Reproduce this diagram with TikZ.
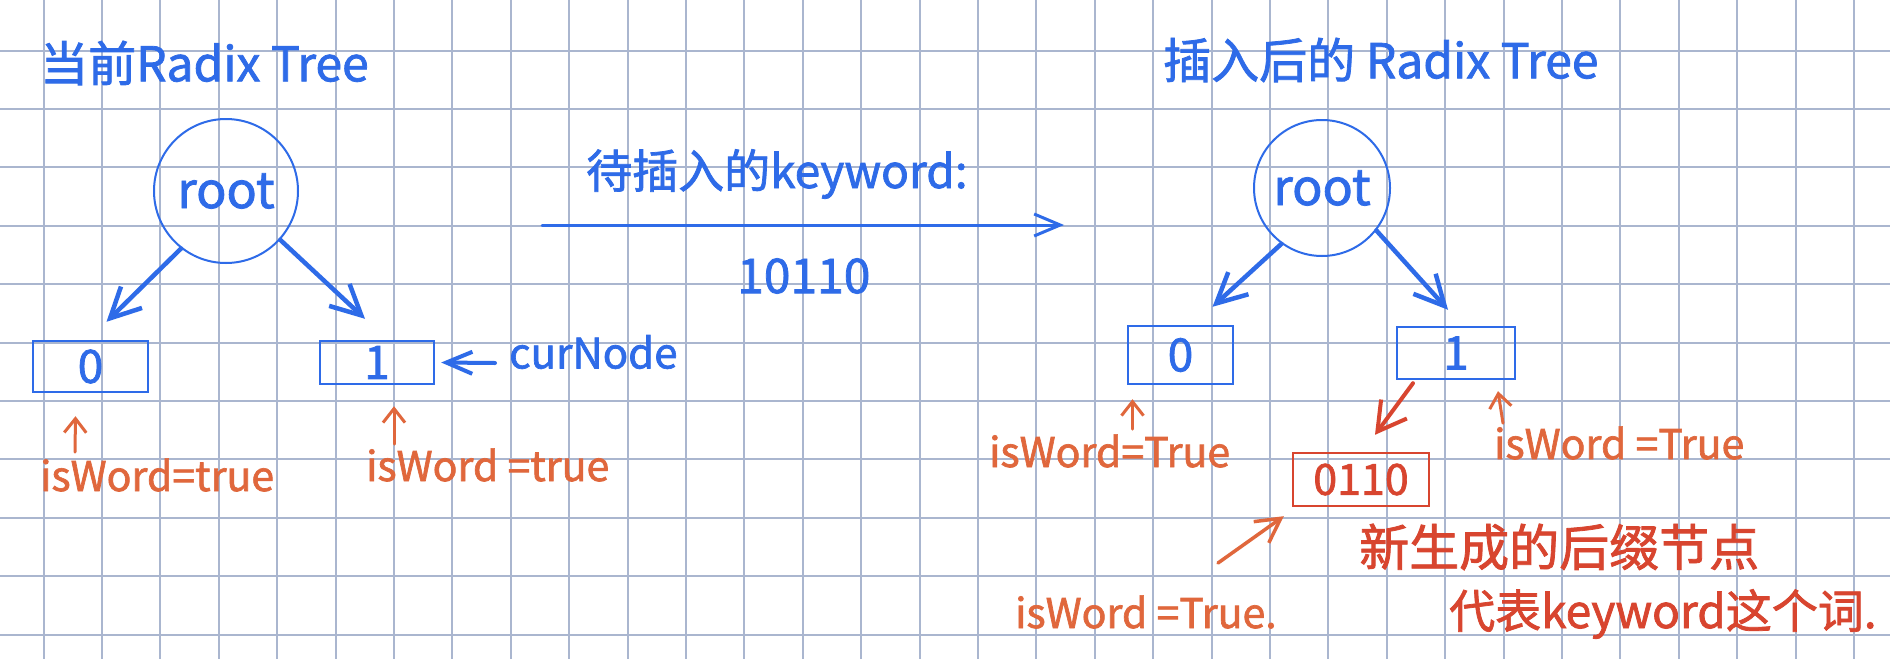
\documentclass[tikz,border=0pt]{standalone}
\usepackage{fontspec}
\newfontfamily\cjk[FakeBold=1.6]{Noto Sans CJK SC}
\usetikzlibrary{arrows.meta,calc}
\definecolor{hblue}{HTML}{2E6BE8}
\definecolor{horange}{HTML}{E0673C}
\definecolor{hred}{HTML}{D8452F}
\definecolor{gridc}{HTML}{AAB6CF}
\newcommand{\fsz}[1]{\fontsize{#1}{#1}\selectfont}
\begin{document}
\begin{tikzpicture}[x=1pt,y=-1pt,
  txt/.style={inner sep=0pt, anchor=west, font=\cjk},
  bluetxt/.style={txt, text=hblue},
  orangetxt/.style={txt, text=horange, font=\cjk\fsz{41}},
  redtxt/.style={txt, text=hred},
  rootc/.style={circle, draw=hblue, line width=2pt, text=hblue, inner sep=0pt, font=\cjk\fsz{50}},
  bbox/.style={rectangle, draw=hblue, line width=2.4pt, text=hblue, inner sep=0pt, font=\cjk\fsz{46}},
  rbox/.style={rectangle, draw=hred, line width=2.4pt, text=hred, inner sep=0pt, font=\cjk\fsz{43}},
  barrow/.style={draw=hblue, line width=4.5pt, line cap=round, -{Straight Barb[length=30pt,width=30pt]}},
  marrow/.style={draw=hblue, line width=3pt, line cap=round, -{Straight Barb[length=26pt,width=22pt]}},
  rarrow/.style={draw=hred, line width=4pt, line cap=round, -{Straight Barb[length=28pt,width=32pt]}},
  oarrow/.style={draw=horange, line width=3pt, line cap=round, -{Straight Barb[length=14pt,width=22pt]}},
  odarrow/.style={draw=horange, line width=3.5pt, line cap=round, -{Straight Barb[length=24pt,width=26pt]}}
]
\useasboundingbox (0,0) rectangle (1890,659);
\fill[white] (0,0) rectangle (1890,659);
% grid
\foreach \i in {0,...,31} {\draw[gridc, line width=2pt] ({43.5+58.4*\i},0) -- ({43.5+58.4*\i},659);}
\foreach \j in {0,...,10} {\draw[gridc, line width=2pt] (0,{50.5+58.4*\j}) -- (1890,{50.5+58.4*\j});}

% ---------- left tree ----------
\node[bluetxt, font=\cjk\fsz{48}] (titleL) at (40,63) {当前Radix Tree};
\node[rootc, minimum size=144pt] (rootL) at (226,191) {root};
\node[bbox, minimum width=115pt, minimum height=51pt] (box0L) at (90.5,366.5) {0};
\node[bbox, minimum width=114pt, minimum height=43pt] (box1L) at (377,362.5) {1};
\node[bluetxt, font=\cjk\fsz{42}] (cur) at (509,352) {curNode};
\draw[barrow] (rootL.232) -- ($(box0L.north)+(16,-18)$);
\draw[barrow] (rootL.-42) -- ($(box1L.north)+(-12,-21)$);
\draw[marrow, line width=4pt] ($(cur.west)+(-14,11)$) -- ($(box1L.east)+(6,0)$);
\node[orangetxt] (iwL0) at (40,475) {isWord=true};
\node[orangetxt] (iwL1) at (366,465) {isWord =true};
\draw[oarrow] ($(iwL0.north west)+(35,-6)$) -- ($(box0L.south)+(-15,23)$);
\draw[oarrow] ($(iwL1.north west)+(28,-4)$) -- ($(box1L.south)+(17,21)$);

% ---------- middle ----------
\node[bluetxt, font=\cjk\fsz{46}] (kwlabel) at (586,174) {待插入的keyword:};
\coordinate (mstart) at (542,225);
\coordinate (mend) at (1064,225);
\draw[marrow] (mstart) -- (mend);
\node[bluetxt, font=\cjk\fsz{48}] (kw) at (737,276) {10110};

% ---------- right tree ----------
\node[bluetxt, font=\cjk\fsz{48}] (titleR) at (1163,60) {插入后的 Radix Tree};
\node[rootc, minimum size=136pt] (rootR) at (1322,188) {root};
\node[bbox, minimum width=105pt, minimum height=58pt] (box0R) at (1180.5,355) {0};
\node[bbox, minimum width=118pt, minimum height=52pt] (box1R) at (1456,353) {1};
\node[rbox, minimum width=136pt, minimum height=53pt] (box0110) at (1361,479.5) {0110};
\draw[barrow] (rootR.234) -- ($(box0R.north)+(32,-18)$);
\draw[barrow] (rootR.-38) -- ($(box1R.north)+(-8,-16)$);
\draw[rarrow] ($(box1R.south)+(-43,3)$) -- ($(box0110.north)+(14,-17)$);
\node[orangetxt] (iwR0) at (989,451) {isWord=True};
\node[orangetxt] (iwR1) at (1494,443) {isWord =True};
\node[orangetxt] (iwR2) at (1015,612) {isWord =True.};
\draw[oarrow] ($(box0R.south)+(-48,44)$) -- ($(box0R.south)+(-48,14)$);
\draw[oarrow] ($(box1R.south)+(47,43)$) -- ($(box1R.south)+(42,11)$);
\coordinate (dstart) at (1218,563);
\draw[odarrow] (dstart) -- ($(box0110.south west)+(-8,9)$);
\node[redtxt, font=\cjk\fsz{50}] (new1) at (1359,547) {新生成的后缀节点};
\node[redtxt, font=\cjk\fsz{46}] (new2) at (1449,614) {代表keyword这个词.};
\end{tikzpicture}
\end{document}
